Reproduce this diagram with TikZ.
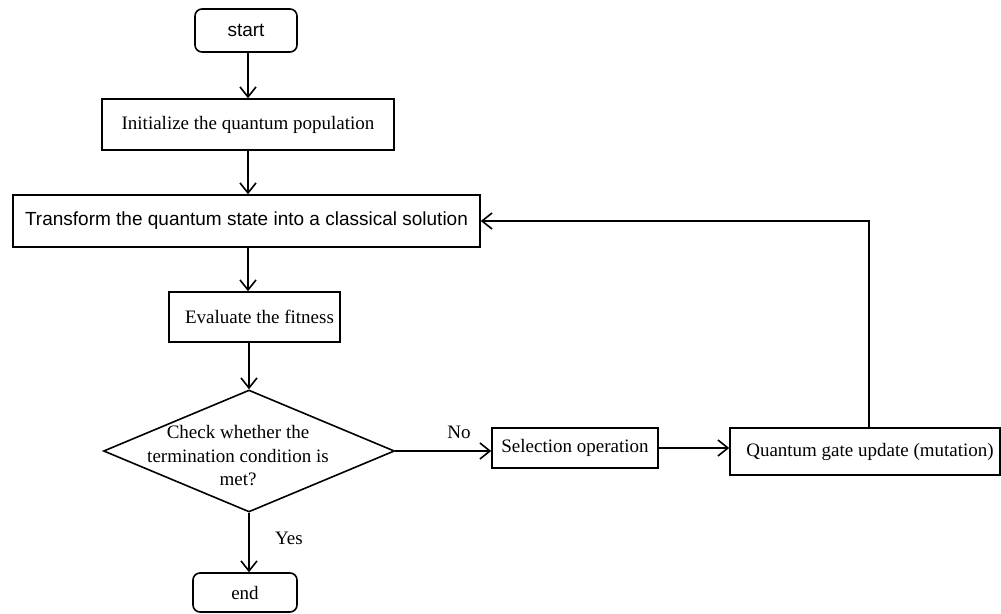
\documentclass[tikz,border=0pt]{standalone}
\usepackage{fontspec}
\setmainfont{Liberation Serif}
\setsansfont{Liberation Sans}
\usepackage{tikz}
\usetikzlibrary{shapes.geometric, arrows.meta, positioning}
\tikzset{
  flowbox/.style={draw, line width=1.6pt, inner sep=0pt,
                  font=\fontsize{19}{23.5}\selectfont},
  termbox/.style={flowbox, rounded corners=7pt},
  decision/.style={draw, diamond, line width=1.6pt, inner sep=0pt,
                   minimum width=291pt, minimum height=122pt},
  flowtext/.style={inner sep=0pt, align=center,
                   font=\fontsize{19}{23.5}\selectfont},
  flowarrow/.style={line width=1.6pt, -{Straight Barb[length=10pt, width=16pt]}},
}

\begin{document}
\begin{tikzpicture}[x=1pt, y=-1pt]
\useasboundingbox (0,0) rectangle (1001,613);

% main column
\node[termbox, font=\sffamily\fontsize{19}{23.5}\selectfont,
      minimum width=102pt, minimum height=43pt] (start) at (246,30.5) {start};
\node[flowbox, minimum width=292pt, minimum height=51pt] (init) at (248,124.5)
    {Initialize the quantum population};
\node[flowbox, font=\sffamily\fontsize{19}{23.5}\selectfont,
      minimum width=467pt, minimum height=52pt] (trans) at (246.5,221)
    {Transform the quantum state into a classical solution};
\node[flowbox, minimum width=171pt, minimum height=50pt] (eval) at (254.5,317)
    {\hspace*{10pt}Evaluate the fitness};
\node[decision] (check) at (249,451) {};
\node[flowtext] (checklabel) at (238,456)
    {Check whether the\\termination condition is\\met?};
\node[termbox, minimum width=104pt, minimum height=39pt] (stop) at (245,592.5) {end};

% loop branch
\node[flowbox, minimum width=166pt, minimum height=40pt] (select) at (575,448)
    {Selection operation};
\node[flowbox, minimum width=270pt, minimum height=47pt] (gate) at (865,451.5)
    {\hspace*{10pt}Quantum gate update (mutation)};

% connectors
\draw[flowarrow] (start.south -| init.south) -- (init.north);
\draw[flowarrow] (init.south) -- (trans.north -| init.south);
\draw[flowarrow] (init.south |- trans.south) -- (init.south |- eval.north);
\draw[flowarrow] (check.north |- eval.south) -- (check.north);
\draw[flowarrow] (check.south) -- (stop.north -| check.south);
\draw[flowarrow] (check.east) -- (check.east -| select.west);
\draw[flowarrow] (select.east) -- (select.east -| gate.west);
\draw[flowarrow] ([xshift=4pt]gate.north) |- (trans.east);

% branch labels
\node[flowtext] (nolabel) at (459,432) {No};
\node[flowtext] (yeslabel) at (289,538) {Yes};
\end{tikzpicture}
\end{document}
